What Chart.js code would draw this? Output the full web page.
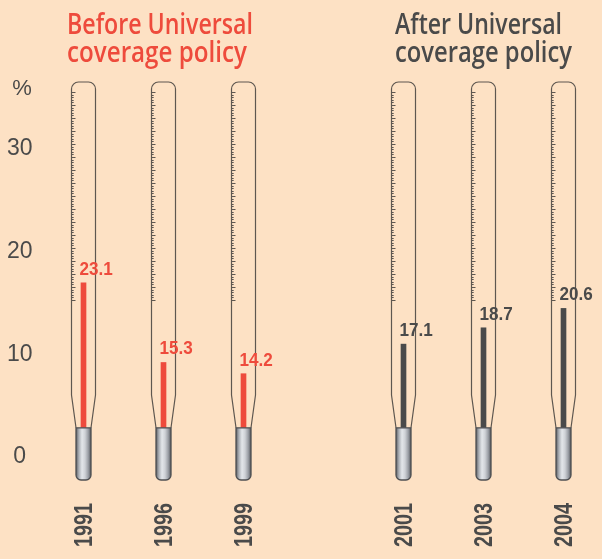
<!DOCTYPE html>
<html>
<head>
<meta charset="utf-8">
<script src="https://cdn.jsdelivr.net/npm/chart.js@4.4.1/dist/chart.umd.min.js"></script>
<style>
html,body{margin:0;padding:0;background:#fde1c4;}
</style>
</head>
<body>
<canvas id="chart1" width="602" height="559"></canvas>
<script>
// data
const years = ['1991', '1996', '1999', '', '2001', '2003', '2004'];
const values = [23.1, 15.3, 14.2, null, 17.1, 18.7, 20.6];
const period = ['before', 'before', 'before', '', 'after', 'after', 'after'];
const yTicks = [0, 10, 20, 30];
const headBefore = ['Before Universal', 'coverage policy'];
const headAfter = ['After Universal', 'coverage policy'];

const red = '#ee4b3c';
const dark = '#4a4a4a';
const colorOf = p => p === 'before' ? red : dark;
const sans = "'Liberation Sans', Arial, sans-serif";

// draw text squeezed to a given width (the original uses a condensed face)
function fitText(ctx, txt, x, y, w) {
    const m = ctx.measureText(txt).width;
    ctx.save();
    ctx.translate(x, y);
    ctx.scale(w / m, 1);
    ctx.fillText(txt, 0, 0);
    ctx.restore();
}

const thermo = {
    id: 'thermo',
    beforeDatasetsDraw(chart) {
        const ctx = chart.ctx;
        const xs = chart.scales.x, y2 = chart.scales.y2;
        const bulbTop = y2.getPixelForValue(chart.data.datasets[0].base);
        ctx.save();
        ctx.strokeStyle = '#5e5750';
        years.forEach((yr, i) => {
            if (!yr) return;
            const cx = xs.getPixelForValue(i);
            const top = 82, r = 7, hw = 12, bw = 7.5, taper = 395;
            ctx.lineWidth = 1.2;
            ctx.beginPath();
            ctx.moveTo(cx - bw, bulbTop);
            ctx.lineTo(cx - hw, taper);
            ctx.lineTo(cx - hw, top + r);
            ctx.arcTo(cx - hw, top, cx - hw + r, top, r);
            ctx.lineTo(cx + hw - r, top);
            ctx.arcTo(cx + hw, top, cx + hw, top + r, r);
            ctx.lineTo(cx + hw, taper);
            ctx.lineTo(cx + bw, bulbTop);
            ctx.stroke();
            // scale marks inside the tube
            ctx.beginPath();
            let k = 0;
            for (let ty = 92; ty <= 302; ty += 2.6, k++) {
                const len = k % 5 === 0 ? 4 : 2.2;
                ctx.moveTo(cx - hw, Math.round(ty) + 0.5);
                ctx.lineTo(cx - hw + len, Math.round(ty) + 0.5);
            }
            ctx.lineWidth = 1;
            ctx.stroke();
        });
        ctx.restore();
    },
    afterDatasetsDraw(chart) {
        const ctx = chart.ctx;
        const xs = chart.scales.x, y2 = chart.scales.y2;
        const bulbTop = y2.getPixelForValue(chart.data.datasets[0].base);
        const bulbBot = 480;
        const meta = chart.getDatasetMeta(0);
        ctx.save();
        years.forEach((yr, i) => {
            if (!yr) return;
            const cx = xs.getPixelForValue(i);
            const bw = 7.5, r = 5;
            const g = ctx.createLinearGradient(cx - bw, 0, cx + bw, 0);
            g.addColorStop(0, '#5d6066');
            g.addColorStop(0.2, '#aeb2b8');
            g.addColorStop(0.4, '#e3e6ea');
            g.addColorStop(0.6, '#cfd2d7');
            g.addColorStop(0.82, '#9a9ea5');
            g.addColorStop(1, '#55585e');
            ctx.beginPath();
            ctx.moveTo(cx - bw, bulbTop);
            ctx.lineTo(cx + bw, bulbTop);
            ctx.lineTo(cx + bw, bulbBot - r);
            ctx.arcTo(cx + bw, bulbBot, cx + bw - r, bulbBot, r);
            ctx.lineTo(cx - bw + r, bulbBot);
            ctx.arcTo(cx - bw, bulbBot, cx - bw, bulbBot - r, r);
            ctx.closePath();
            ctx.fillStyle = g;
            ctx.fill();
            ctx.strokeStyle = '#4e4f52';
            ctx.lineWidth = 1.3;
            ctx.stroke();

            // value label above the column
            const el = meta.data[i];
            const txt = values[i].toFixed(1);
            ctx.fillStyle = colorOf(period[i]);
            ctx.font = "bold 19px " + sans;
            ctx.textAlign = 'left';
            ctx.textBaseline = 'alphabetic';
            fitText(ctx, txt, el.x - 4, el.y - 8, ctx.measureText(txt).width * 0.9);

            // year label, rotated, reading upwards
            ctx.fillStyle = dark;
            ctx.font = "bold 25px " + sans;
            ctx.textAlign = 'right';
            ctx.save();
            ctx.translate(cx - 1, 503);
            ctx.rotate(-Math.PI / 2);
            const m = ctx.measureText(yr).width;
            ctx.scale(44 / m, 1);
            ctx.fillText(yr, 0, 9);
            ctx.restore();
        });

        // headers
        ctx.font = "600 29px 'Open Sans', sans-serif";
        ctx.textAlign = 'left';
        ctx.fillStyle = red;
        fitText(ctx, headBefore[0], 67, 34, 186);
        fitText(ctx, headBefore[1], 67, 62, 180);
        ctx.fillStyle = dark;
        fitText(ctx, headAfter[0], 395, 34, 167);
        fitText(ctx, headAfter[1], 395, 62, 177);

        ctx.font = "22px " + sans;
        ctx.textAlign = 'center';
        ctx.fillText('%', 22, 95);
        ctx.restore();
    }
};

const ctx = document.getElementById('chart1').getContext('2d');
new Chart(ctx, {
    type: 'bar',
    data: {
        labels: years,
        datasets: [{
            data: values,
            base: 8.9,
            yAxisID: 'y2',
            backgroundColor: period.map(colorOf),
            barThickness: 5,
            borderWidth: 0,
            clip: false
        }]
    },
    options: {
        responsive: false,
        animation: false,
        layout: { padding: { top: 86, right: 38.5, bottom: 0, left: 0 } },
        plugins: { legend: { display: false }, tooltip: { enabled: false } },
        scales: {
            x: {
                offset: false,
                grid: { display: false, drawTicks: false },
                border: { display: false },
                ticks: { display: false },
                afterFit: s => { s.height = 70; }
            },
            y: {
                position: 'left',
                min: -3.11, max: 36.09,
                grid: { display: false, drawTicks: false },
                border: { display: false },
                afterBuildTicks: s => { s.ticks = yTicks.map(v => ({ value: v })); },
                ticks: {
                    padding: 51, crossAlign: 'center', color: dark,
                    font: { family: sans, size: 23 }
                },
                afterFit: s => { s.width = 83.5; }
            },
            y2: { display: false, min: 2.9, max: 42.4 }
        }
    },
    plugins: [thermo]
});
</script>
</body>
</html>
